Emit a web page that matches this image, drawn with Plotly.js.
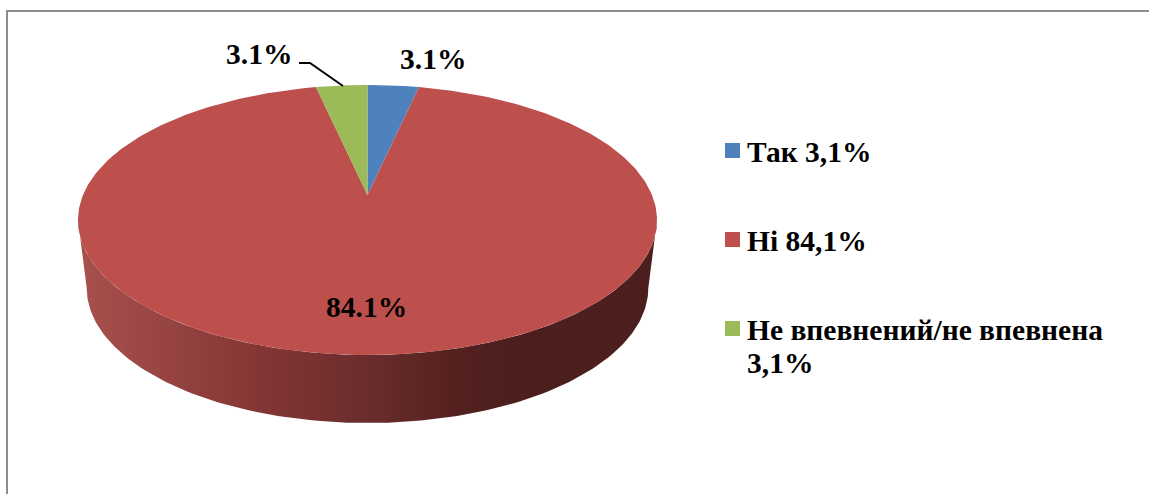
<!DOCTYPE html>
<html>
<head>
<meta charset="utf-8">
<script src="https://cdn.plot.ly/plotly-3.0.1.min.js"></script>
<style>html,body{margin:0;padding:0;background:#fff;overflow:hidden}#chart{width:1149px;height:494px}</style>
</head>
<body>
<div id="chart"></div>
<script>
const categories = ['Так', 'Ні', 'Не впевнений/не впевнена'];
const values = [3.1, 84.1, 3.1];
const valueLabels = ['3.1%', '84.1%', '3.1%'];
const legendLines = [['Так 3,1%'], ['Ні 84,1%'], ['Не впевнений/не впевнена', '3,1%']];
const colors = ['#4f81bd', '#bd504d', '#9bbb59'];
const legendColors = ['#4f81bd', '#c0504d', '#9bbb59'];

// 3D-perspective projection of the pie disc into pixel-valued axes
const cx = 367.5, apexY = 195, R = 284.5, k = 0.185, c = 130.4;
function project(deg, scale = 1, dy = 0) {
  const t = deg * Math.PI / 180, u = Math.sin(t), v = Math.cos(t), w = 1 + k * v;
  return [cx + scale * R * u / w, apexY + dy - c * v / w];
}
function arc(a, b, scale, dy) {
  const pts = [], n = Math.max(2, Math.ceil(Math.abs(b - a)));
  for (let i = 0; i <= n; i++) pts.push(project(a + (b - a) * i / n, scale, dy));
  return pts;
}
const total = values.reduce((s, v) => s + v, 0);
let acc = 0;
const slices = values.map(v => { const a = acc; acc += v / total * 360; return [a, acc]; });

const traces = [];
// side wall: front part of the rim between its widest points, extruded downward
const widest = Math.acos(-k) * 180 / Math.PI;
const rimTop = arc(widest, 360 - widest, 1, 0), rimBottom = arc(360 - widest, widest, 0.97, 68);
const sidePts = rimTop.concat(rimBottom);
traces.push({
  x: sidePts.map(p => p[0]), y: sidePts.map(p => p[1]),
  mode: 'lines', line: {width: 0}, fill: 'toself', hoverinfo: 'skip',
  fillcolor: '#6a2d2c',
  fillgradient: {
    type: 'horizontal', start: 78, stop: 657,
    colorscale: [[0, '#a8514e'], [0.31, '#843635'], [0.5, '#6a2d2c'], [0.65, '#54211f'], [0.75, '#4c1f1e'], [1, '#4c1f1e']]
  }
});
// top faces
slices.forEach((s, i) => {
  const pts = [[cx, apexY]].concat(arc(s[0], s[1], 1, 0));
  pts.push([cx, apexY]);
  traces.push({
    x: pts.map(p => p[0]), y: pts.map(p => p[1]), name: categories[i],
    mode: 'lines', line: {width: 0}, fill: 'toself', fillcolor: colors[i], hoverinfo: 'name'
  });
});
// leader line for the green label
traces.push({
  x: [299, 310, 343], y: [63, 63, 86], mode: 'lines',
  line: {color: '#000', width: 2}, hoverinfo: 'skip'
});
// legend swatches
const legendX = 732.5, legendY = [150.5, 239.5, 328.5];
traces.push({
  x: legendY.map(() => legendX), y: legendY, mode: 'markers', hoverinfo: 'skip',
  marker: {symbol: 'square', size: 15, color: legendColors, line: {width: 0}}
});

const font = {family: '"Liberation Serif", serif', size: 29.5, color: '#000'};
const note = (text, x, y, anchor = 'center') => ({
  text, x, y, xref: 'x', yref: 'y', xanchor: anchor, yanchor: 'middle', showarrow: false, font
});
const annotations = [
  note('<b>' + valueLabels[0] + '</b>', 433, 59),
  note('<b>' + valueLabels[1] + '</b>', 366, 307),
  note('<b>' + valueLabels[2] + '</b>', 259, 54)
];
const lineGap = 33;
legendLines.forEach((lines, i) => lines.forEach((ln, j) =>
  annotations.push(note('<b>' + ln + '</b>', 745, legendY[i] + 1 + j * lineGap, 'left'))));

const layout = {
  width: 1149, height: 494, margin: {l: 0, r: 0, t: 0, b: 0},
  paper_bgcolor: '#fff', plot_bgcolor: '#fff', showlegend: false,
  xaxis: {range: [0, 1149], visible: false, fixedrange: true},
  yaxis: {range: [494, 0], visible: false, fixedrange: true},
  annotations,
  shapes: [
    {type: 'line', xref: 'x', yref: 'y', x0: 6, x1: 1149, y0: 11, y1: 11, line: {color: '#8c8c8c', width: 2}},
    {type: 'line', xref: 'x', yref: 'y', x0: 7, x1: 7, y0: 10, y1: 494, line: {color: '#8c8c8c', width: 2}}
  ]
};
Plotly.newPlot('chart', traces, layout, {displayModeBar: false, responsive: false});
</script>
</body>
</html>
